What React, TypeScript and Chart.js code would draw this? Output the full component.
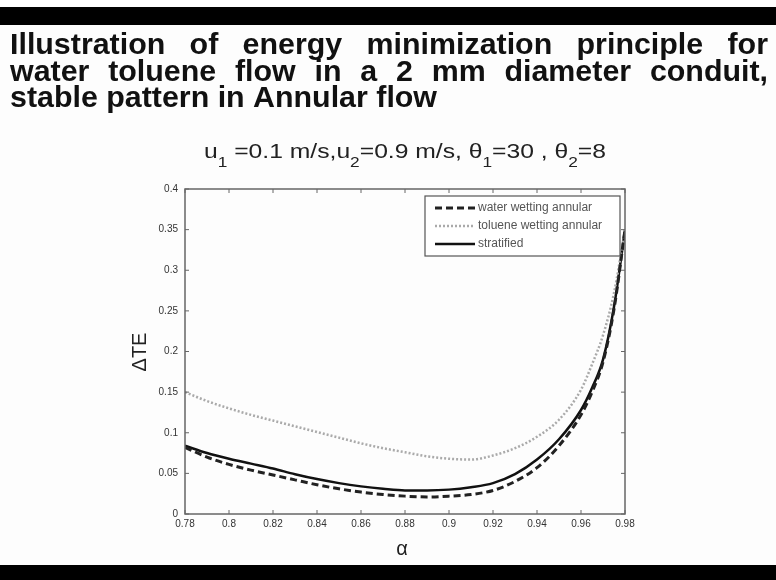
import React, { useEffect, useRef } from "react";
import { Chart, registerables } from "chart.js";

Chart.register(...registerables);

const alpha = [0.78, 0.79, 0.8, 0.81, 0.82, 0.83, 0.84, 0.85, 0.86, 0.87, 0.88, 0.89, 0.9, 0.91, 0.92, 0.93, 0.94, 0.95, 0.96, 0.965, 0.97, 0.975, 0.98];
const waterWetting = [0.082, 0.07, 0.061, 0.054, 0.048, 0.042, 0.036, 0.031, 0.027, 0.024, 0.022, 0.021, 0.022, 0.024, 0.029, 0.04, 0.057, 0.084, 0.122, 0.15, 0.187, 0.252, 0.35];
const tolueneWetting = [0.15, 0.139, 0.13, 0.122, 0.115, 0.108, 0.101, 0.094, 0.087, 0.081, 0.076, 0.071, 0.068, 0.067, 0.072, 0.081, 0.095, 0.116, 0.153, 0.184, 0.22, 0.272, 0.35];
const stratified = [0.084, 0.075, 0.068, 0.062, 0.056, 0.049, 0.043, 0.038, 0.034, 0.031, 0.029, 0.029, 0.03, 0.033, 0.038, 0.049, 0.067, 0.092, 0.128, 0.155, 0.19, 0.255, 0.35];

const seriesNames = ["water wetting annular", "toluene wetting annular", "stratified"];
const titleLines = [
  "Illustration of energy minimization principle for",
  "water toluene flow in a 2 mm diameter conduit,",
  "stable pattern in Annular flow",
];

const fmt = (v: number) => String(Number(Number(v).toFixed(2)));

const overlay = {
  id: "overlay",
  beforeDraw(chart: any) {
    const ctx = chart.ctx;
    ctx.save();
    ctx.fillStyle = "#fdfdfd";
    ctx.fillRect(0, 0, chart.width, chart.height);
    ctx.restore();
  },
  afterDraw(chart: any) {
    const ctx = chart.ctx;
    const { left, right, top, bottom } = chart.chartArea;
    ctx.save();
    // black bands
    ctx.fillStyle = "#000";
    ctx.fillRect(0, 7, chart.width, 18);
    ctx.fillRect(0, 565, chart.width, 15);

    // title lines
    ctx.fillStyle = "#111";
    ctx.textBaseline = "alphabetic";
    ctx.textAlign = "left";
    ctx.font = 'bold 30px "Liberation Sans", Arial, sans-serif';
    const w3 = ctx.measureText(titleLines[2]).width;
    const sx = 427 / w3;
    const drawWord = (w: string, x: number, y: number) => {
      ctx.save();
      ctx.translate(x, y);
      ctx.scale(sx, 1);
      ctx.fillText(w, 0, 0);
      ctx.restore();
    };
    const justify = (text: string, x0: number, x1: number, y: number) => {
      const words = text.split(" ");
      const widths = words.map((w) => ctx.measureText(w).width * sx);
      const tot = widths.reduce((a, b) => a + b, 0);
      const gap = (x1 - x0 - tot) / (words.length - 1);
      let x = x0;
      words.forEach((w, i) => {
        drawWord(w, x, y);
        x += widths[i] + gap;
      });
    };
    justify(titleLines[0], 10, 768, 54);
    justify(titleLines[1], 10, 768, 81);
    drawWord(titleLines[2], 10, 107);

    // subtitle with subscripts
    const segs: [string, number][] = [
      ["u", 0], ["1", 1], [" =0.1 m/s,u", 0], ["2", 1], ["=0.9 m/s, ", 0], ["θ", 0], ["1", 1], ["=30 , ", 0], ["θ", 0], ["2", 1], ["=8", 0],
    ];
    const mainFont = '20px "Liberation Sans", Arial, sans-serif';
    const subFont = '14px "Liberation Sans", Arial, sans-serif';
    let tw = 0;
    segs.forEach(([s, sub]) => {
      ctx.font = sub ? subFont : mainFont;
      tw += ctx.measureText(s).width;
    });
    const ssx = 402 / tw;
    let cx = 204;
    ctx.fillStyle = "#222";
    segs.forEach(([s, sub]) => {
      ctx.font = sub ? subFont : mainFont;
      const w = ctx.measureText(s).width;
      ctx.save();
      ctx.translate(cx, sub ? 167 : 158);
      ctx.scale(ssx, 1);
      ctx.fillText(s, 0, 0);
      ctx.restore();
      cx += w * ssx;
    });

    // box
    ctx.strokeStyle = "#666";
    ctx.lineWidth = 1.5;
    ctx.strokeRect(left, top, right - left, bottom - top);
    // inward ticks
    const xs = chart.scales.x;
    const ys = chart.scales.y;
    ctx.lineWidth = 1;
    ctx.strokeStyle = "#666";
    ctx.beginPath();
    xs.ticks.forEach((t: any) => {
      const px = xs.getPixelForValue(t.value);
      ctx.moveTo(px, bottom);
      ctx.lineTo(px, bottom - 4);
      ctx.moveTo(px, top);
      ctx.lineTo(px, top + 4);
    });
    ys.ticks.forEach((t: any) => {
      const py = ys.getPixelForValue(t.value);
      ctx.moveTo(left, py);
      ctx.lineTo(left + 4, py);
      ctx.moveTo(right, py);
      ctx.lineTo(right - 4, py);
    });
    ctx.stroke();

    // axis titles
    ctx.fillStyle = "#222";
    ctx.font = '20px "Liberation Sans", Arial, sans-serif';
    ctx.textAlign = "center";
    ctx.textBaseline = "middle";
    ctx.fillText("α", 402, 549);
    ctx.save();
    ctx.translate(140, 352);
    ctx.rotate(-Math.PI / 2);
    ctx.fillText("ΔTE", 0, 0);
    ctx.restore();

    // legend
    const lx = 425, ly = 196, lw = 195, lh = 60;
    ctx.fillStyle = "#ffffff";
    ctx.fillRect(lx, ly, lw, lh);
    ctx.strokeStyle = "#555";
    ctx.lineWidth = 1.2;
    ctx.strokeRect(lx, ly, lw, lh);
    const ds = chart.data.datasets;
    ctx.textAlign = "left";
    ctx.font = '12px "Liberation Sans", Arial, sans-serif';
    ds.forEach((d: any, i: number) => {
      const y = ly + 12 + i * 18;
      ctx.strokeStyle = d.borderColor;
      ctx.lineWidth = d.borderWidth;
      ctx.setLineDash(d.borderDash || []);
      ctx.beginPath();
      ctx.moveTo(lx + 10, y);
      ctx.lineTo(lx + 50, y);
      ctx.stroke();
      ctx.setLineDash([]);
      ctx.fillStyle = "#555";
      ctx.fillText(d.label, lx + 53, y);
    });
    ctx.restore();
  },
};

export default function App() {
  const ref = useRef<HTMLCanvasElement | null>(null);
  useEffect(() => {
    if (!ref.current) return;
    const mk = (vals: number[]) => alpha.map((a, i) => ({ x: a, y: vals[i] }));
    const chart = new Chart(ref.current, {
      type: "line",
      data: {
        datasets: [
          { label: seriesNames[0], data: mk(waterWetting), borderColor: "#222", borderWidth: 3, borderDash: [7, 4], pointRadius: 0, cubicInterpolationMode: "monotone" },
          { label: seriesNames[1], data: mk(tolueneWetting), borderColor: "#aaaaaa", borderWidth: 2.5, borderDash: [2, 2], pointRadius: 0, cubicInterpolationMode: "monotone" },
          { label: seriesNames[2], data: mk(stratified), borderColor: "#111", borderWidth: 2.5, pointRadius: 0, cubicInterpolationMode: "monotone" },
        ],
      } as any,
      options: {
        animation: false,
        responsive: false,
        maintainAspectRatio: false,
        layout: { padding: { left: 0, top: 189, right: 151, bottom: 0 } },
        plugins: { legend: { display: false }, tooltip: { enabled: false }, title: { display: false } },
        scales: {
          x: {
            type: "linear",
            min: 0.78,
            max: 0.98,
            afterFit: (s: any) => { s.height = 66; },
            grid: { display: false, drawTicks: false },
            border: { display: false },
            ticks: { stepSize: 0.02, padding: 4, color: "#333", font: { size: 10, family: '"Liberation Sans", Arial' }, maxRotation: 0, callback: (v: any) => fmt(v) },
          },
          y: {
            type: "linear",
            min: 0,
            max: 0.4,
            afterFit: (s: any) => { s.width = 185; },
            grid: { display: false, drawTicks: false },
            border: { display: false },
            ticks: { stepSize: 0.05, padding: 7, color: "#333", font: { size: 10, family: '"Liberation Sans", Arial' }, callback: (v: any) => fmt(v) },
          },
        },
      } as any,
      plugins: [overlay],
    });
    return () => chart.destroy();
  }, []);
  return (
    <div style={{ position: "absolute", left: 0, top: 0, width: 776, height: 580 }}>
      <canvas ref={ref} width={776} height={580} style={{ width: 776, height: 580, display: "block" }} />
    </div>
  );
}
